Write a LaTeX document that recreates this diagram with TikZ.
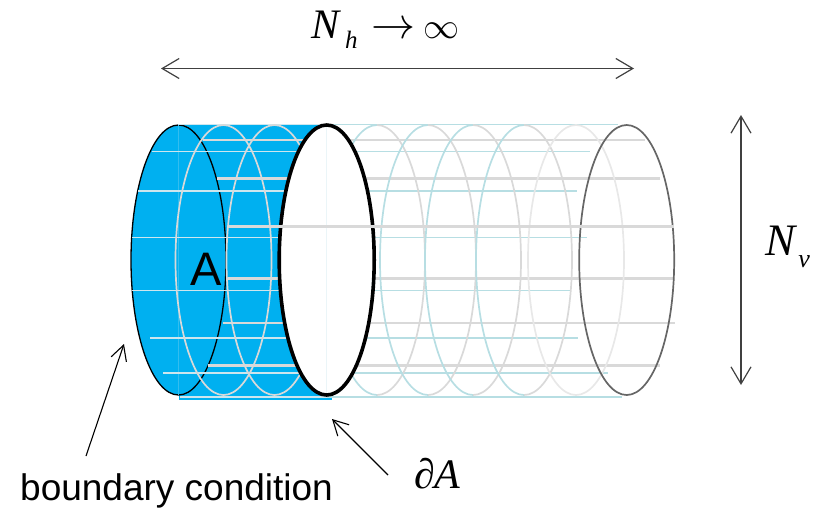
\documentclass[tikz,border=0pt]{standalone}
\usepackage{fix-cm}
\usepackage{fontspec}
\setmainfont{Liberation Serif}
\newfontfamily\labelsans{Liberation Sans}
\usetikzlibrary{arrows.meta}
\definecolor{cellblue}{RGB}{0,176,240}
\definecolor{wireteal}{RGB}{183,222,227}
\definecolor{wirepale}{RGB}{205,230,238}
\definecolor{wiregrey}{RGB}{217,217,217}
\definecolor{wirelight}{RGB}{232,232,232}
\definecolor{ringdark}{RGB}{102,102,102}
\definecolor{spangrey}{RGB}{64,64,64}

\begin{document}
\begin{tikzpicture}[
  x=1pt, y=-1pt,
  ring/.style={line width=1.7pt},
  span/.style={{Straight Barb[length=17pt,width=20pt]}-{Straight Barb[length=17pt,width=20pt]}, line width=1.2pt, draw=spangrey},
  lead/.style={-{Straight Barb[length=15pt,width=16pt]}, line width=1.1pt},
  mathlabel/.style={font=\fontsize{42}{44}\selectfont, inner sep=0pt, anchor=base west},
  textlabel/.style={font=\labelsans\fontsize{37}{40}\selectfont, inner sep=0pt}
]
\useasboundingbox (0,0) rectangle (817,512);

% Region A: blue surface
\fill[cellblue] (178.5,125) rectangle (331.7,399.5);
\fill[cellblue] (178.5,260) ellipse [x radius=47.5, y radius=135];
\draw[black, line width=1.3pt] (178.5,260) ellipse [x radius=47.5, y radius=135];
\draw[wirepale!25!cellblue, line width=0.5pt] (178.5,125) -- (178.5,395);

% Teal wires, pale over the blue part
\foreach \yy/\xa/\xb in {124.5/178/618, 151.3/152/590, 191/138/577, 237.3/132/587,
                         290.3/132/571, 337.7/150/578, 372.7/163/608, 396.7/180/622} {
  \draw[wirepale, line width=1.6pt] (\xa,\yy) -- (327,\yy);
  \draw[wireteal, line width=1.6pt] (327,\yy) -- (\xb,\yy);
}
% Grey wires
\foreach \yy/\xa/\xb/\wd in {139.7/203/645/1.7, 178.3/217/660/2.6, 278.3/228/674/2.8,
                             322.7/223/675/1.7, 365.3/208/660/2.6} {
  \draw[wiregrey, line width=\wd pt] (\xa,\yy) -- (\xb,\yy);
}

% Rings over the blue part
\foreach \cx in {223.5,274.5} {
  \draw[wiregrey, ring] (\cx,260) ellipse [x radius=48, y radius=135];
}

% Rings to the right: teal left half, grey right half
\foreach \cx in {377,428,473,524} {
  \draw[wireteal, ring] (\cx,125) arc [start angle=-90, end angle=-270, x radius=48, y radius=135];
  \draw[wiregrey, ring] (\cx,125) arc [start angle=-90, end angle=90, x radius=48, y radius=135];
}
\draw[wirelight, ring] (576,260) ellipse [x radius=48, y radius=135];
\draw[ringdark, ring] (626.7,260) ellipse [x radius=47.5, y radius=135];

% Cut between A and the rest
\draw[black, fill=white, line width=3.6pt] (326.7,260) ellipse [x radius=47.5, y radius=135];
\draw[wirepale!40!white, line width=0.5pt] (326.7,127) -- (326.7,393);
\draw[wiregrey, line width=2.6pt] (228,226.3) -- (674,226.3);

% Labels
\node[textlabel, anchor=base] (regiona) at (205.7,285.7) {\fontsize{47}{50}\selectfont A};
\node[textlabel, anchor=base west] (bclabel) at (20,500.7) {boundary condition};
\node[mathlabel] (dalabel) at (414,488) {∂\textit{A}};
\node[mathlabel] (nhlabel) at (311,38) {\textit{N}\hspace{4pt}\raisebox{-10pt}{\fontsize{25}{26}\selectfont\textit{h}}\hspace{14pt}{\fontsize{44}{46}\selectfont$\rightarrow$}\hspace{8pt}{\fontsize{36}{38}\selectfont$\infty$}};
\node[mathlabel] (nvlabel) at (765,255) {\fontsize{45}{46}\selectfont\textit{N}\hspace{1pt}\raisebox{-12pt}{\fontsize{26}{27}\selectfont\textit{v}}};

% Arrows
\coordinate (hleft) at (161,68.5);
\coordinate (hright) at (634,68.5);
\coordinate (vtop) at (741,115);
\coordinate (vbottom) at (741,385);
\coordinate (bcstart) at (86,456);
\coordinate (bcend) at (124,344);
\coordinate (dastart) at (388,475);
\coordinate (daend) at (332,419);
\draw[span] (hleft) -- (hright);
\draw[span] (vtop) -- (vbottom);
\draw[lead] (bcstart) -- (bcend);
\draw[lead] (dastart) -- (daend);
\end{tikzpicture}
\end{document}
